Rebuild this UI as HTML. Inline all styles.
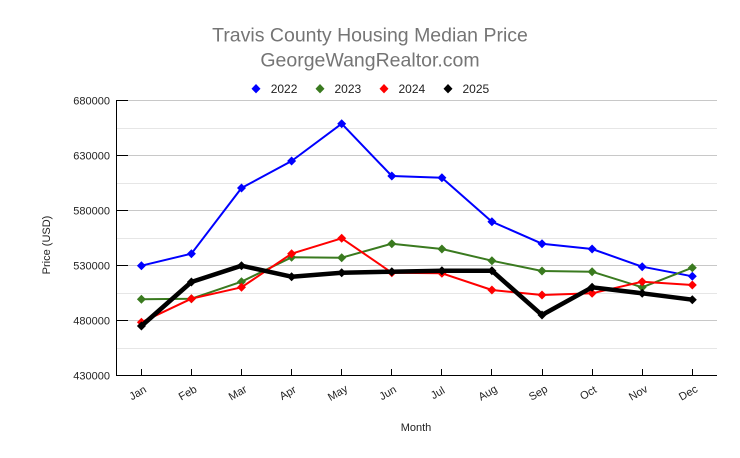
<!DOCTYPE html>
<html><head><meta charset="utf-8"><style>
html,body{margin:0;padding:0;background:#fff;}
svg{display:block;font-family:"Liberation Sans",Arial,sans-serif;}
</style></head><body>
<svg width="740" height="458" viewBox="0 0 740 458" xmlns="http://www.w3.org/2000/svg">
<rect x="0" y="0" width="740" height="458" fill="#fff"/>
<text x="370" y="41.5" text-anchor="middle" font-size="19.5" fill="#757575">Travis County Housing Median Price</text>
<text x="370" y="66.5" text-anchor="middle" font-size="19.5" fill="#757575">GeorgeWangRealtor.com</text>
<g font-size="12" fill="#222">
<path d="M256 84 L260.5 88.7 L256 93.4 L251.5 88.7Z" fill="#0000ff"/><text x="270.7" y="93">2022</text>
<path d="M320 84 L324.5 88.7 L320 93.4 L315.5 88.7Z" fill="#3a7a1f"/><text x="334.5" y="93">2023</text>
<path d="M384 84 L388.5 88.7 L384 93.4 L379.5 88.7Z" fill="#ff0000"/><text x="398.5" y="93">2024</text>
<path d="M448 84 L452.5 88.7 L448 93.4 L443.5 88.7Z" fill="#000"/><text x="462.5" y="93">2025</text>
</g>
<g stroke="#e6e6e6" stroke-width="1">
<line x1="116" y1="128.5" x2="717" y2="128.5"/>
<line x1="116" y1="183.5" x2="717" y2="183.5"/>
<line x1="116" y1="238.5" x2="717" y2="238.5"/>
<line x1="116" y1="293.5" x2="717" y2="293.5"/>
<line x1="116" y1="348.5" x2="717" y2="348.5"/>
</g>
<g stroke="#c8c8c8" stroke-width="1">
<line x1="116" y1="100.5" x2="717" y2="100.5"/>
<line x1="116" y1="155.5" x2="717" y2="155.5"/>
<line x1="116" y1="210.5" x2="717" y2="210.5"/>
<line x1="116" y1="265.5" x2="717" y2="265.5"/>
<line x1="116" y1="320.5" x2="717" y2="320.5"/>
</g>
<g stroke="#000" stroke-width="1">
<line x1="116.5" y1="100" x2="116.5" y2="376"/>
<line x1="116" y1="375.5" x2="717" y2="375.5"/>
<line x1="116" y1="100.5" x2="128" y2="100.5"/>
<line x1="116" y1="155.5" x2="128" y2="155.5"/>
<line x1="116" y1="210.5" x2="128" y2="210.5"/>
<line x1="116" y1="265.5" x2="128" y2="265.5"/>
<line x1="116" y1="320.5" x2="128" y2="320.5"/>
<line x1="141.5" y1="369" x2="141.5" y2="375"/>
<line x1="191.5" y1="369" x2="191.5" y2="375"/>
<line x1="241.5" y1="369" x2="241.5" y2="375"/>
<line x1="291.5" y1="369" x2="291.5" y2="375"/>
<line x1="341.5" y1="369" x2="341.5" y2="375"/>
<line x1="391.5" y1="369" x2="391.5" y2="375"/>
<line x1="441.5" y1="369" x2="441.5" y2="375"/>
<line x1="491.5" y1="369" x2="491.5" y2="375"/>
<line x1="542.5" y1="369" x2="542.5" y2="375"/>
<line x1="592.5" y1="369" x2="592.5" y2="375"/>
<line x1="642.5" y1="369" x2="642.5" y2="375"/>
<line x1="692.5" y1="369" x2="692.5" y2="375"/>
</g>
<g font-size="11" fill="#222" text-anchor="end">
<text x="110" y="104.3">680000</text>
<text x="110" y="159.3">630000</text>
<text x="110" y="214.3">580000</text>
<text x="110" y="269.3">530000</text>
<text x="110" y="324.3">480000</text>
<text x="110" y="379.3">430000</text>
</g>
<g font-size="11" fill="#222" text-anchor="middle">
<text transform="translate(139.5,396) rotate(-30)">Jan</text>
<text transform="translate(189.5,396) rotate(-30)">Feb</text>
<text transform="translate(239.5,396) rotate(-30)">Mar</text>
<text transform="translate(289.5,396) rotate(-30)">Apr</text>
<text transform="translate(339.5,396) rotate(-30)">May</text>
<text transform="translate(389.5,396) rotate(-30)">Jun</text>
<text transform="translate(439.5,396) rotate(-30)">Jul</text>
<text transform="translate(489.5,396) rotate(-30)">Aug</text>
<text transform="translate(540,396) rotate(-30)">Sep</text>
<text transform="translate(590,396) rotate(-30)">Oct</text>
<text transform="translate(640,396) rotate(-30)">Nov</text>
<text transform="translate(690,396) rotate(-30)">Dec</text>
</g>
<text x="416" y="431" text-anchor="middle" font-size="11" fill="#222">Month</text>
<text transform="translate(50,245) rotate(-90)" text-anchor="middle" font-size="11" fill="#222">Price (USD)</text>

<defs>
<path id="dm" d="M0 -4.5 L4.5 0 L0 4.5 L-4.5 0Z"/>
</defs>

<!-- 2022 -->
<polyline fill="none" stroke="#0000ff" stroke-width="2" stroke-linejoin="round" points="141.4,265.7 191.4,253.7 241.5,188 291.6,161 341.7,123.7 391.8,176 441.9,177.7 491.9,221.7 542,243.7 592.1,249 642.2,266.7 692.3,276.3"/>
<g fill="#0000ff">
<use href="#dm" x="141.4" y="265.7"/><use href="#dm" x="191.4" y="253.7"/><use href="#dm" x="241.5" y="188"/><use href="#dm" x="291.6" y="161"/><use href="#dm" x="341.7" y="123.7"/><use href="#dm" x="391.8" y="176"/><use href="#dm" x="441.9" y="177.7"/><use href="#dm" x="491.9" y="221.7"/><use href="#dm" x="542" y="243.7"/><use href="#dm" x="592.1" y="249"/><use href="#dm" x="642.2" y="266.7"/><use href="#dm" x="692.3" y="276.3"/>
</g>
<!-- 2023 -->
<polyline fill="none" stroke="#3a7a1f" stroke-width="2" stroke-linejoin="round" points="141.4,299.3 191.4,298.7 241.5,281.7 291.6,257.3 341.7,257.7 391.8,243.7 441.9,249 491.9,260.7 542,271 592.1,271.7 642.2,287.3 692.3,267.7"/>
<g fill="#3a7a1f">
<use href="#dm" x="141.4" y="299.3"/><use href="#dm" x="191.4" y="298.7"/><use href="#dm" x="241.5" y="281.7"/><use href="#dm" x="291.6" y="257.3"/><use href="#dm" x="341.7" y="257.7"/><use href="#dm" x="391.8" y="243.7"/><use href="#dm" x="441.9" y="249"/><use href="#dm" x="491.9" y="260.7"/><use href="#dm" x="542" y="271"/><use href="#dm" x="592.1" y="271.7"/><use href="#dm" x="642.2" y="287.3"/><use href="#dm" x="692.3" y="267.7"/>
</g>
<!-- 2024 -->
<polyline fill="none" stroke="#ff0000" stroke-width="2" stroke-linejoin="round" points="141.4,322.3 191.4,298.7 241.5,287.3 291.6,253.7 341.7,238.3 391.8,272.7 441.9,273.3 491.9,290 542,295 592.1,293.3 642.2,281.7 692.3,285"/>
<g fill="#ff0000">
<use href="#dm" x="141.4" y="322.3"/><use href="#dm" x="191.4" y="298.7"/><use href="#dm" x="241.5" y="287.3"/><use href="#dm" x="291.6" y="253.7"/><use href="#dm" x="341.7" y="238.3"/><use href="#dm" x="391.8" y="272.7"/><use href="#dm" x="441.9" y="273.3"/><use href="#dm" x="491.9" y="290"/><use href="#dm" x="542" y="295"/><use href="#dm" x="592.1" y="293.3"/><use href="#dm" x="642.2" y="281.7"/><use href="#dm" x="692.3" y="285"/>
</g>
<!-- 2025 -->
<polyline fill="none" stroke="#000" stroke-width="4.5" stroke-linejoin="round" points="141.4,326 191.4,282 241.5,265.7 291.6,276.7 341.7,272.7 391.8,271.7 441.9,270.7 491.9,270.7 542,315 592.1,287.3 642.2,293.3 692.3,299.7"/>
<g fill="#000">
<use href="#dm" x="141.4" y="326"/><use href="#dm" x="191.4" y="282"/><use href="#dm" x="241.5" y="265.7"/><use href="#dm" x="291.6" y="276.7"/><use href="#dm" x="341.7" y="272.7"/><use href="#dm" x="391.8" y="271.7"/><use href="#dm" x="441.9" y="270.7"/><use href="#dm" x="491.9" y="270.7"/><use href="#dm" x="542" y="315"/><use href="#dm" x="592.1" y="287.3"/><use href="#dm" x="642.2" y="293.3"/><use href="#dm" x="692.3" y="299.7"/>
</g>
</svg>
</body></html>
